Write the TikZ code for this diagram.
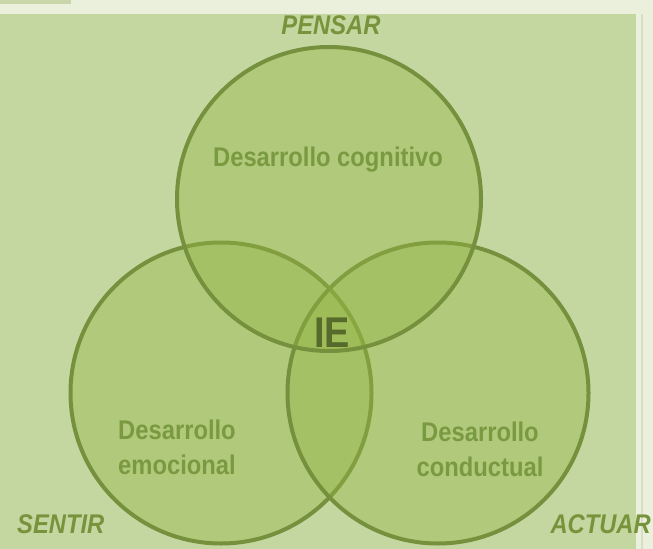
\documentclass[tikz,border=0pt]{standalone}
\usepackage{fontspec}
\setmainfont{Liberation Sans}[FakeStretch=0.88]
\definecolor{outerbg}{HTML}{EBF0DC}
\definecolor{tabcol}{HTML}{C9D6AA}
\definecolor{panel}{HTML}{C5D7A0}
\definecolor{circfill}{HTML}{94B544}
\definecolor{circline}{HTML}{76913D}
\definecolor{labcol}{HTML}{77933C}
\definecolor{incol}{HTML}{7A9A42}
\definecolor{iecol}{HTML}{566B2B}
\definecolor{stripline}{HTML}{D6DEC6}
\begin{document}
\begin{tikzpicture}[x=1bp,y=-1bp,
  setcircle/.style={circle, inner sep=0pt, minimum size=301bp, fill=circfill, fill opacity=0.4, draw=circline, draw opacity=1, line width=4bp},
  outerlabel/.style={font=\fontsize{27bp}{30bp}\selectfont\bfseries\itshape, text=labcol, inner sep=0pt},
  innerlabel/.style={font=\fontsize{27bp}{35bp}\selectfont\bfseries, text=incol, inner sep=0pt, align=center}]
\useasboundingbox (0,0) rectangle (653,549);
\fill[outerbg] (0,0) rectangle (653,549);
\fill[tabcol] (0,0) rectangle (71,4);
\fill[panel] (0,14) rectangle (636,549);
\fill[stripline] (641,14) rectangle (642.5,549);
% circles
\node[setcircle] (L) at (221,393) {};
\node[setcircle] (R) at (438,393) {};
\node[setcircle, minimum size=304bp] (T) at (329,199) {};
% labels
\node[outerlabel, anchor=base] (pensar) at (331,35) {PENSAR};
\node[outerlabel, anchor=base west] (sentir) at (17,533) {SENTIR};
\node[outerlabel, anchor=base east] (actuar) at (651,533) {ACTUAR};
\node[innerlabel, anchor=base] (cog) at (328,167) {Desarrollo cognitivo};
\node[innerlabel] (emo) at (177,447) {Desarrollo\\emocional};
\node[innerlabel] (con) at (480,449) {Desarrollo\\conductual};
\node[font=\fontsize{43bp}{45bp}\selectfont\bfseries, text=iecol, inner sep=0pt, anchor=base] (ie) at (332,347) {IE};
\end{tikzpicture}
\end{document}
